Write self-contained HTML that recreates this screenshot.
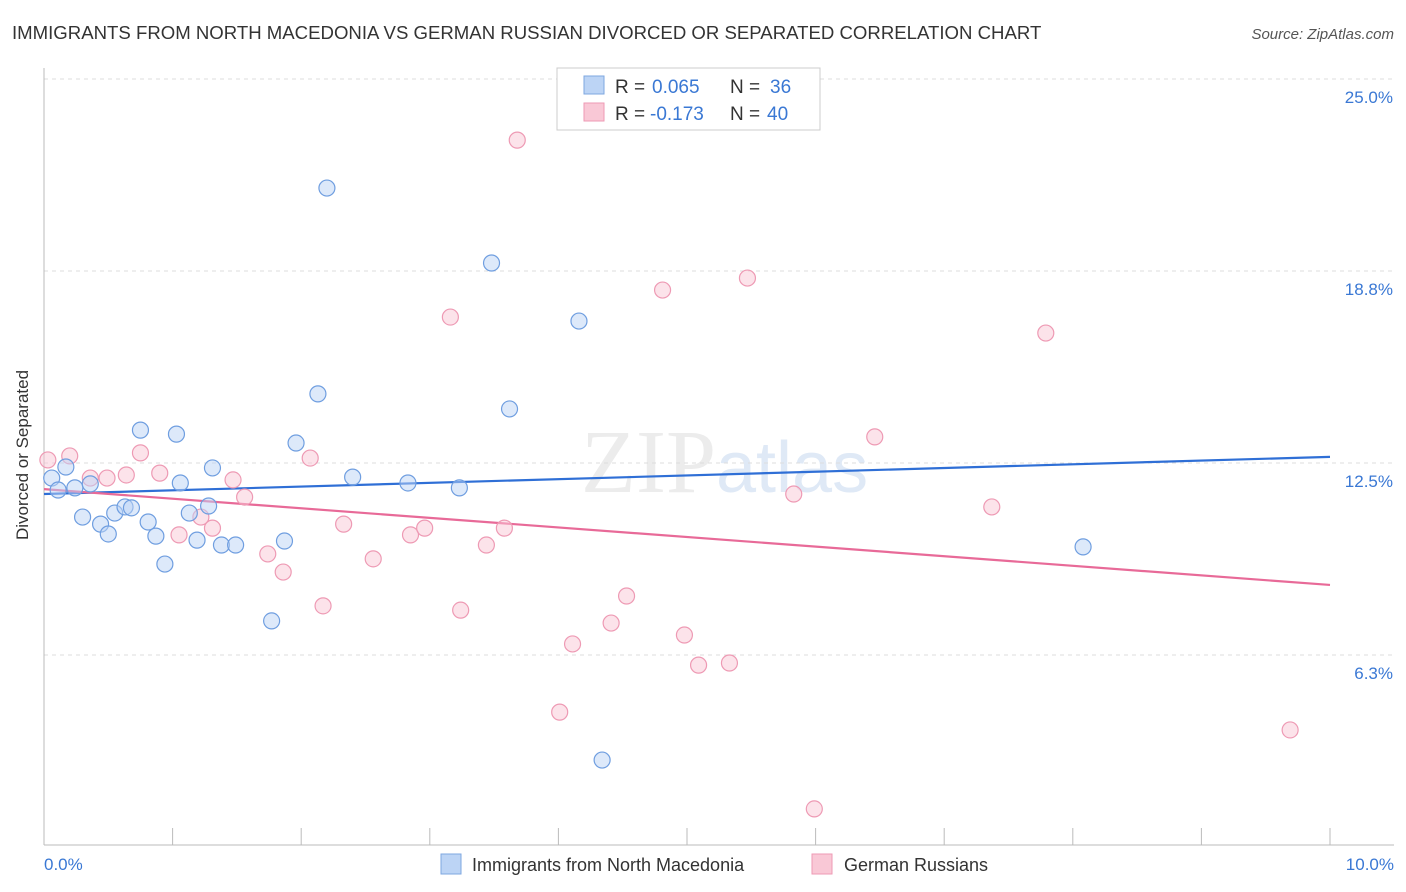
<!DOCTYPE html>
<html><head><meta charset="utf-8"><style>
body{margin:0;background:#fff;font-family:"Liberation Sans",sans-serif;}
svg{display:block}
</style></head><body>
<svg id="c" width="1406" height="892" xmlns="http://www.w3.org/2000/svg">
<text x="12" y="39" font-size="18.6" fill="#333">IMMIGRANTS FROM NORTH MACEDONIA VS GERMAN RUSSIAN DIVORCED OR SEPARATED CORRELATION CHART</text>
<text x="1394" y="39" font-size="15" fill="#555" font-style="italic" text-anchor="end">Source: ZipAtlas.com</text>
<text x="28" y="455" font-size="17" fill="#333" text-anchor="middle" transform="rotate(-90 28 455)">Divorced or Separated</text>
<text x="716" y="492" font-size="90" fill="#ececec" text-anchor="end" font-family="Liberation Serif,serif">ZIP</text>
<text x="716" y="492" font-size="72" fill="#dfe9f6">atlas</text>
<g id="grid"></g><g id="axes"></g><g id="lines"></g><g id="pts"></g>
<g>
<rect x="557" y="68" width="263" height="62" fill="#fff" stroke="#ccc"/>
<rect x="584" y="76" width="20" height="18" fill="#bcd4f5" stroke="#7ea7e0"/>
<rect x="584" y="103" width="20" height="18" fill="#f9c8d6" stroke="#ee9ab4"/>
<text x="615" y="93" font-size="19" fill="#333">R =</text>
<text x="652" y="93" font-size="19" fill="#3a78d4">0.065</text>
<text x="730" y="93" font-size="19" fill="#333">N =</text>
<text x="770" y="93" font-size="19" fill="#3a78d4">36</text>
<text x="615" y="120" font-size="19" fill="#333">R =</text>
<text x="650" y="120" font-size="19" fill="#3a78d4">-0.173</text>
<text x="730" y="120" font-size="19" fill="#333">N =</text>
<text x="767" y="120" font-size="19" fill="#3a78d4">40</text>
</g>
<g>
<rect x="441" y="854" width="20" height="20" fill="#bcd4f5" stroke="#7ea7e0"/>
<text x="472" y="871" font-size="18" fill="#333">Immigrants from North Macedonia</text>
<rect x="812" y="854" width="20" height="20" fill="#f9c8d6" stroke="#ee9ab4"/>
<text x="844" y="871" font-size="18" fill="#333">German Russians</text>
</g>
</svg>
<script>
const yTicks=[6.25,12.5,18.75,25];
const yTickLabels=["6.3%","12.5%","18.8%","25.0%"];
const xTickLabels=["0.0%","10.0%"];
const blueX=[0.06,0.11,0.17,0.24,0.30,0.36,0.44,0.50,0.55,0.63,0.68,0.75,0.81,0.87,0.94,1.03,1.06,1.13,1.19,1.28,1.31,1.38,1.49,1.77,1.87,1.96,2.13,2.20,2.40,2.83,3.23,3.48,3.62,4.16,4.34,8.08];
const blueY=[12.01,11.62,12.37,11.69,10.74,11.82,10.51,10.19,10.87,11.07,11.04,13.57,10.58,10.12,9.21,13.44,11.85,10.87,9.99,11.10,12.34,9.83,9.83,7.36,9.96,13.15,14.75,21.45,12.04,11.85,11.69,19.01,14.26,17.12,2.83,9.77];
const pinkX=[0.03,0.20,0.36,0.49,0.64,0.75,0.90,1.05,1.22,1.31,1.47,1.56,1.74,1.86,2.07,2.17,2.33,2.56,2.85,2.96,3.16,3.24,3.44,3.58,3.68,4.01,4.11,4.41,4.53,4.81,4.98,5.09,5.33,5.47,5.83,5.99,6.46,7.37,7.79,9.69];
const pinkY=[12.60,12.73,12.01,12.01,12.11,12.83,12.17,10.16,10.74,10.38,11.95,11.39,9.54,8.95,12.66,7.85,10.51,9.38,10.16,10.38,17.25,7.71,9.83,10.38,23.01,4.39,6.61,7.29,8.17,18.13,6.90,5.92,5.99,18.52,11.49,1.24,13.35,11.07,16.73,3.81];
const blueTrend=[11.49,12.70];
const pinkTrend=[11.65,8.53];
const NS="http://www.w3.org/2000/svg";
const X=v=>44+v*128.6, Y=v=>847-v*30.72;
function mk(t,a,p){const e=document.createElementNS(NS,t);for(const k in a)e.setAttribute(k,a[k]);document.getElementById(p).appendChild(e);return e;}
yTicks.forEach((t,i)=>{
 const g=mk('line',{x1:44,x2:1394,y1:Y(t),y2:Y(t),stroke:'#ddd','stroke-dasharray':'4,4'},'grid');
 
 
 const l=mk('text',{x:1393,y:Y(t)+24,'font-size':17,fill:'#3a78d4','text-anchor':'end'},'grid');
 l.textContent=yTickLabels[i];
 
 
});
mk('line',{x1:44,x2:44,y1:68,y2:845,stroke:'#bbb'},'axes');
mk('line',{x1:44,x2:1394,y1:845,y2:845,stroke:'#bbb'},'axes');
for(let i=0;i<=10;i++){const t=mk('line',{x1:X(i),x2:X(i),y1:828,y2:845,stroke:'#bbb'},'axes');
 
 }
const xl0=mk('text',{x:44,y:870,'font-size':17,fill:'#3a78d4'},'axes');xl0.textContent=xTickLabels[0];


const xl1=mk('text',{x:1394,y:870,'font-size':17,fill:'#3a78d4','text-anchor':'end'},'axes');xl1.textContent=xTickLabels[1];


function pts(xs,ys,fill,stroke,name){xs.forEach((x,i)=>{const c=mk('circle',{cx:X(x),cy:Y(ys[i]),r:8,fill:fill,'fill-opacity':0.5,stroke:stroke,'stroke-width':1.2},'pts');
 
 });}
pts(pinkX,pinkY,'#f9c8d6','#ee9ab4','pink-point');
pts(blueX,blueY,'#bcd4f5','#6f9ee0','blue-point');
const bl=mk('line',{x1:X(0),y1:Y(blueTrend[0]),x2:X(10),y2:Y(blueTrend[1]),stroke:'#2f6fd6','stroke-width':2.2},'lines');


const pl=mk('line',{x1:X(0),y1:Y(pinkTrend[0]),x2:X(10),y2:Y(pinkTrend[1]),stroke:'#e86a98','stroke-width':2.2},'lines');


</script>
</body></html>
